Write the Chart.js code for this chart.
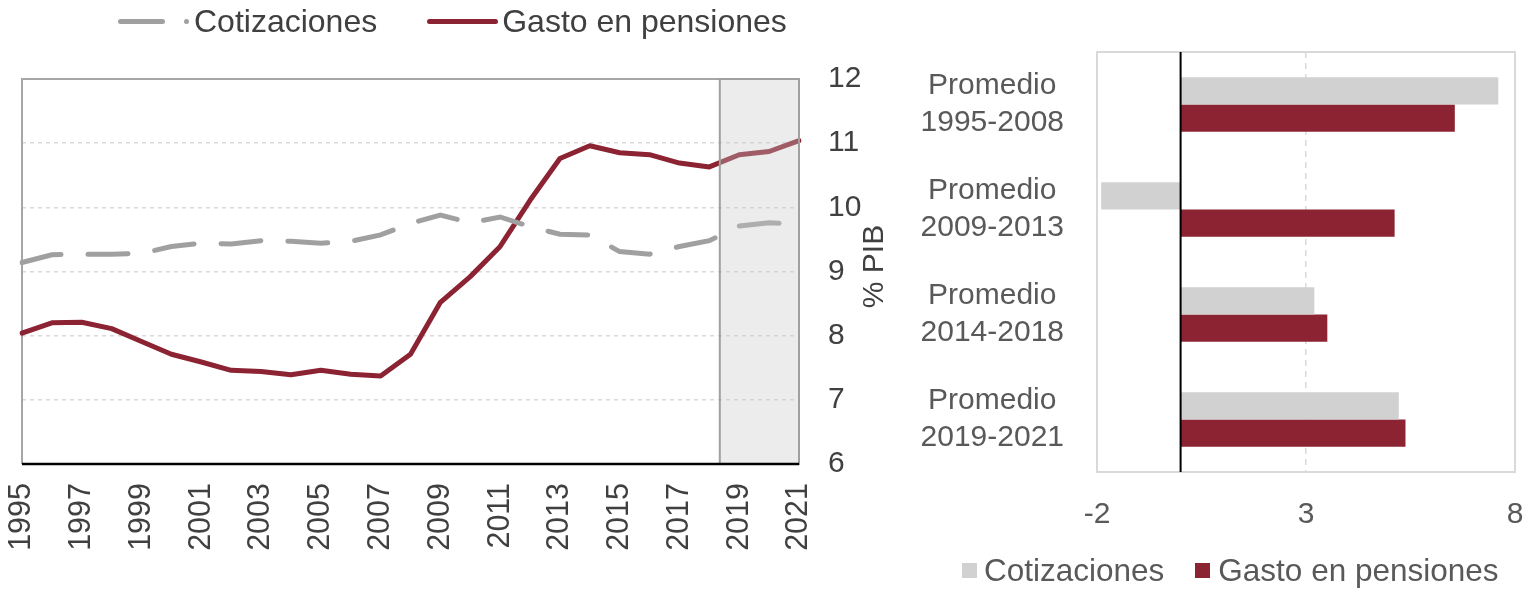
<!DOCTYPE html>
<html>
<head>
<meta charset="utf-8">
<script src="https://cdn.jsdelivr.net/npm/chart.js@4.4.1/dist/chart.umd.min.js"></script>
<style>
  body { margin: 0; background: #fff; width: 1532px; height: 589px; overflow: hidden; position: relative; font-family: 'Liberation Sans', Arial, sans-serif; }
  #left { position: absolute; left: 0; top: 0; }
  #right { position: absolute; left: 880px; top: 0; }
  .legend { position: absolute; display: flex; align-items: center; white-space: nowrap; }
  #legTop { left: 118px; top: 3px; color: #404040; font-size: 32px; }
  #legBottom { left: 962px; top: 552px; color: #595959; font-size: 31.5px; }
  .dash { display: inline-block; height: 5px; border-radius: 3px; }
  .dot { display: inline-block; width: 5px; height: 5px; border-radius: 50%; }
  .sq { display: inline-block; width: 15px; height: 15px; }
</style>
</head>
<body>
<canvas id="left" width="900" height="589"></canvas>
<canvas id="right" width="652" height="589"></canvas>

<div class="legend" id="legTop">
  <span class="dash" style="width:47px;background:#a0a0a0"></span>
  <span class="dot" style="background:#a0a0a0;margin-left:19px"></span>
  <span style="margin-left:5px">Cotizaciones</span>
  <span class="dash" style="width:71px;background:#8b2332;margin-left:50px"></span>
  <span style="margin-left:4px">Gasto en pensiones</span>
</div>
<div class="legend" id="legBottom">
  <span class="sq" style="background:#d0d1d0"></span>
  <span style="margin-left:7px">Cotizaciones</span>
  <span class="sq" style="background:#8b2332;margin-left:31px"></span>
  <span style="margin-left:8px">Gasto en pensiones</span>
</div>

<script>
// --- DATA ---
const years = ['1995', '1996', '1997', '1998', '1999', '2000', '2001', '2002', '2003', '2004',
               '2005', '2006', '2007', '2008', '2009', '2010', '2011', '2012', '2013', '2014',
               '2015', '2016', '2017', '2018', '2019', '2020', '2021'];
const cotizaciones = [9.14, 9.26, 9.27, 9.27, 9.28, 9.39, 9.44, 9.43, 9.48, 9.47,
                      9.44, 9.47, 9.57, 9.75, 9.88, 9.76, 9.85, 9.70, 9.58, 9.57,
                      9.31, 9.27, 9.39, 9.48, 9.71, 9.76, 9.74];
const gasto = [8.04, 8.20, 8.21, 8.11, 7.91, 7.71, 7.59, 7.46, 7.44, 7.39,
               7.46, 7.40, 7.37, 7.71, 8.52, 8.92, 9.39, 10.11, 10.76, 10.96,
               10.85, 10.82, 10.69, 10.63, 10.82, 10.87, 11.04];
const shadeFrom = 2018.35; // start of the shaded (projection) band, in years

const periods = [['Promedio', '1995-2008'], ['Promedio', '2009-2013'],
                 ['Promedio', '2014-2018'], ['Promedio', '2019-2021']];
const cotizPeriodo = [7.6, -1.9, 3.2, 5.22];
const gastoPeriodo = [6.56, 5.12, 3.51, 5.38];

// --- STYLE ---
const FONT = "'Liberation Sans', Arial, sans-serif";
const RED = '#8b2332';
const GREY_LINE = '#a0a0a0';
const GREY_BAR = '#d0d1d0';

// frame, shaded band and axis title for the line chart
const leftDecor = {
    id: 'leftDecor',
    beforeDatasetsDraw(chart) {
        const { ctx, chartArea: a } = chart;
        ctx.save();
        ctx.strokeStyle = '#a6a6a6';
        ctx.lineWidth = 2;
        ctx.beginPath();
        ctx.moveTo(a.left, a.bottom);
        ctx.lineTo(a.left, a.top);
        ctx.lineTo(a.right, a.top);
        ctx.stroke();
        ctx.restore();
    },
    afterDatasetsDraw(chart) {
        const { ctx, chartArea: a, scales } = chart;
        const x0 = scales.x.getPixelForValue(shadeFrom - Number(years[0]));
        const x1 = a.right;
        ctx.save();
        ctx.fillStyle = 'rgba(200,200,200,0.35)';
        ctx.fillRect(x0, a.top, x1 - x0, a.bottom - a.top);
        ctx.strokeStyle = '#a0a0a0';
        ctx.lineWidth = 2;
        ctx.strokeRect(x0, a.top, x1 - x0, a.bottom - a.top);
        // bottom axis line
        ctx.strokeStyle = '#000';
        ctx.lineWidth = 2.5;
        ctx.beginPath();
        ctx.moveTo(a.left, a.bottom);
        ctx.lineTo(a.right, a.bottom);
        ctx.stroke();
        // right axis title, reads bottom to top
        ctx.translate(875, (a.top + a.bottom) / 2 - 5);
        ctx.rotate(-Math.PI / 2);
        ctx.fillStyle = '#404040';
        ctx.font = '30px ' + FONT;
        ctx.textAlign = 'center';
        ctx.textBaseline = 'middle';
        ctx.fillText('% PIB', 0, 0);
        ctx.restore();
    }
};

new Chart(document.getElementById('left'), {
    type: 'line',
    data: {
        labels: years,
        datasets: [
            {
                label: 'Cotizaciones', data: cotizaciones,
                borderColor: GREY_LINE, borderWidth: 5, borderDash: [40, 27],
                borderCapStyle: 'round', pointRadius: 0, tension: 0
            },
            {
                label: 'Gasto en pensiones', data: gasto,
                borderColor: RED, borderWidth: 5, borderCapStyle: 'round',
                borderJoinStyle: 'round', pointRadius: 0, tension: 0
            }
        ]
    },
    options: {
        responsive: false,
        animation: false,
        layout: { padding: { left: 22, top: 79, right: 0, bottom: 0 } },
        plugins: { legend: { display: false }, tooltip: { enabled: false } },
        scales: {
            x: {
                offset: false,
                grid: { display: false, drawTicks: false },
                border: { display: false },
                ticks: {
                    autoSkip: false, minRotation: 90, maxRotation: 90, padding: 19,
                    color: '#404040', font: { family: FONT, size: 30.5 },
                    callback: (v, i) => (i % 2 === 0 ? years[i] : '')
                },
                afterFit: s => { s.height = 125; }
            },
            y: {
                position: 'right',
                min: 6, max: 12,
                grid: { color: '#d9d9d9', lineWidth: 1.5, drawTicks: false },
                border: { display: false, dash: [4, 4] },
                ticks: {
                    stepSize: 1, padding: 29,
                    color: '#404040', font: { family: FONT, size: 30 }
                },
                afterFit: s => { s.width = 101; }
            }
        }
    },
    plugins: [leftDecor]
});

// frame and zero line for the bar chart
const rightDecor = {
    id: 'rightDecor',
    afterDatasetsDraw(chart) {
        const { ctx, chartArea: a, scales } = chart;
        ctx.save();
        ctx.strokeStyle = '#d9d9d9';
        ctx.lineWidth = 2;
        ctx.strokeRect(a.left, a.top, a.right - a.left, a.bottom - a.top);
        const z = scales.x.getPixelForValue(0);
        ctx.strokeStyle = '#000';
        ctx.lineWidth = 2;
        ctx.beginPath();
        ctx.moveTo(z, a.top);
        ctx.lineTo(z, a.bottom);
        ctx.stroke();
        ctx.restore();
    }
};

new Chart(document.getElementById('right'), {
    type: 'bar',
    data: {
        labels: periods,
        datasets: [
            { label: 'Cotizaciones', data: cotizPeriodo, backgroundColor: GREY_BAR },
            { label: 'Gasto en pensiones', data: gastoPeriodo, backgroundColor: RED }
        ]
    },
    options: {
        indexAxis: 'y',
        responsive: false,
        animation: false,
        layout: { padding: { left: 0, top: 52, right: 17, bottom: 0 } },
        datasets: { bar: { categoryPercentage: 0.52, barPercentage: 1 } },
        plugins: { legend: { display: false }, tooltip: { enabled: false } },
        scales: {
            x: {
                min: -2, max: 8,
                grid: {
                    drawTicks: false, lineWidth: 1.5,
                    color: c => (c.tick && c.tick.value === 3 ? '#d9d9d9' : 'rgba(0,0,0,0)')
                },
                border: { display: false, dash: [6, 5] },
                ticks: {
                    stepSize: 5, padding: 25,
                    color: '#595959', font: { family: FONT, size: 30 }
                },
                afterFit: s => { s.height = 117; s.paddingLeft = 0; s.paddingRight = 0; }
            },
            y: {
                grid: { display: false, drawTicks: false },
                border: { display: false },
                ticks: {
                    crossAlign: 'center', padding: 33,
                    color: '#595959', font: { family: FONT, size: 30, lineHeight: 1.23 }
                },
                afterFit: s => { s.width = 217; s.paddingTop = 0; s.paddingBottom = 0; }
            }
        }
    },
    plugins: [rightDecor]
});
</script>
</body>
</html>
